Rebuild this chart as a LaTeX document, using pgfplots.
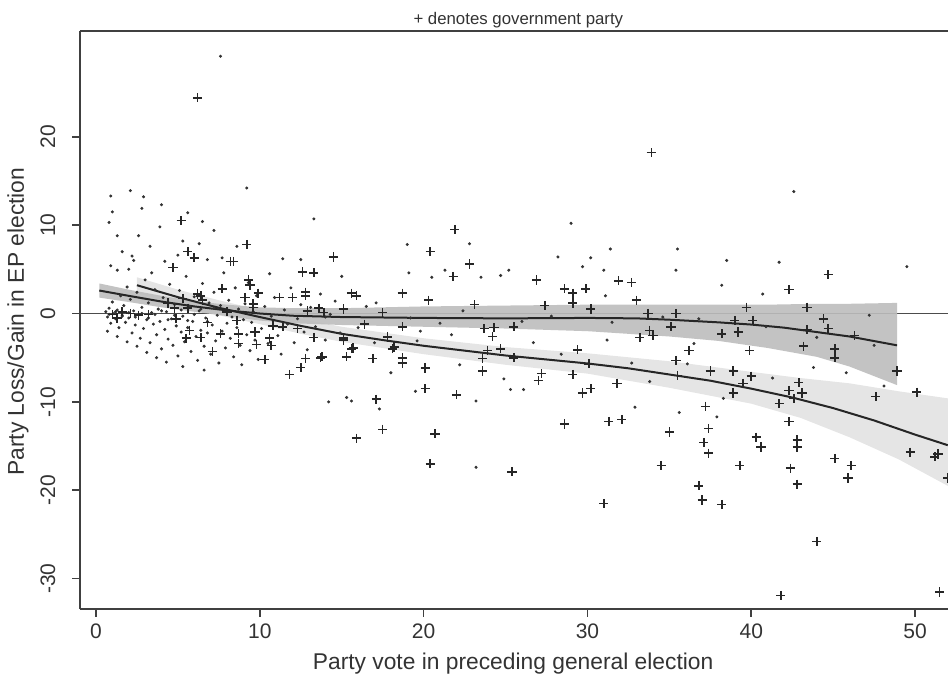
\documentclass[border=0pt]{standalone}
\usepackage{pgfplots}
\pgfplotsset{compat=1.18}
\usepackage{fontspec}
\setmainfont{Liberation Sans}
\begin{document}
\begin{tikzpicture}
\begin{axis}[
  scale only axis, width=434pt, height=289pt,
  xmin=-0.977, xmax=52.01, ymin=-33.43, ymax=31.96,
  axis x line*=box, axis y line*=left,
  axis line style={black!75, line width=1pt},
  xtick={0,10,20,30,40,50}, xticklabels={0,10,20,30,40,50},
  ytick={-30,-20,-10,0,10,20}, yticklabels={-30,-20,-10,0,10,20},
  xtick pos=left, ytick pos=left,
  tick align=outside, major tick length=3.75pt,
  tick style={black!75, line width=0.8pt},
  ticklabel style={font=\fontsize{10.5}{12}\selectfont, text=black!80},
  yticklabel style={rotate=90, anchor=south},
  yticklabel shift=5pt,
  xlabel={Party vote in preceding general election},
  ylabel={Party Loss/Gain in EP election},
  label style={font=\fontsize{11.4}{13}\selectfont, text=black!80},
  xlabel style={at={(axis description cs:0.499,-0.0952)}, anchor=center},
  ylabel style={at={(axis description cs:-0.0714,0.497)}, anchor=center},
  title={+ denotes government party},
  every axis title shift=0pt,
  title style={at={(axis description cs:0.505,1.0183)}, anchor=center, font=\fontsize{8.4}{10}\selectfont, text=black!80},
  clip=true,
]
\coordinate (bl) at (rel axis cs:0,0);
\coordinate (tr) at (rel axis cs:1,1);
% zero line
\addplot[black!70, line width=0.9pt] coordinates {(-0.977,0) (52.01,0)};
% light band (government parties)
\addplot[fill=black!10, draw=none] coordinates {
(2.5,4.1) (5,2.7) (7.5,1.5) (10,0.4) (12.5,-0.6) (15,-1.5) (20,-2.8) (25,-3.8) (30,-4.5) (35,-5.4) (40,-6.6) (43,-7.3) (46,-7.9) (49,-8.8) (52,-9.6)
(52,-19.5) (49,-16.5) (46,-14.0) (43,-11.8) (40,-10.2) (35,-8.4) (30,-6.8) (25,-5.8) (20,-4.6) (15,-3.2) (12.5,-2.3) (10,-1.2) (7.5,-0.2) (5,1.0) (2.5,2.3)};
% dark band (non-government parties)
\addplot[fill=black!26, draw=none, fill opacity=0.9] coordinates {
(0.2,3.4) (2,2.7) (4,2.0) (6,1.4) (8,1.0) (10,0.7) (12,0.6) (15,0.6) (20,0.8) (25,0.9) (30,1.0) (35,1.0) (38,1.0) (41,1.0) (44,1.1) (46,1.1) (48.9,1.2)
(48.9,-8.1) (46,-6.0) (44,-4.9) (41,-3.9) (38,-3.1) (35,-2.6) (30,-2.0) (25,-1.7) (20,-1.5) (15,-1.3) (12,-1.1) (10,-0.8) (8,-0.3) (6,0.2) (4,0.7) (2,1.3) (0.2,1.8)};
% fitted lines
\addplot[black!85, line width=1pt] coordinates {
(2.5,3.2) (5,1.85) (7.5,0.65) (10,-0.4) (12.5,-1.4) (15,-2.3) (17.5,-3.0) (20,-3.65) (22.5,-4.2) (25,-4.75) (27.5,-5.2) (30,-5.65) (32.5,-6.2) (35,-6.9) (37.5,-7.6) (40,-8.5) (42.5,-9.5) (45,-10.7) (47.5,-12.1) (50,-13.7) (52,-14.9)};
\addplot[black!85, line width=1pt] coordinates {
(0.2,2.6) (2,2.0) (4,1.35) (6,0.8) (8,0.35) (10,0.0) (12,-0.25) (15,-0.4) (20,-0.5) (25,-0.55) (30,-0.5) (33,-0.55) (35,-0.7) (38,-1.0) (40,-1.25) (42,-1.6) (44,-2.1) (46,-2.6) (48.9,-3.6)};
% non-government parties (dots)
\addplot[only marks, mark=*, mark size=0.55pt, black!80, mark options={draw=none, fill=black!80}] coordinates {
(0.6,0.2) (0.7,-0.4) (0.8,0.6) (0.9,-1.1) (1.0,1.3) (1.1,0.0) (1.2,-0.6) (1.3,0.4) (1.4,-1.6) (1.5,2.0)
(1.6,-0.2) (1.7,0.9) (1.8,-1.0) (1.9,3.0) (2.0,-0.5) (2.1,1.6) (2.2,-2.2) (2.3,0.3) (2.4,-1.3) (2.5,2.4)
(2.6,-0.1) (2.7,-2.8) (2.8,0.7) (2.9,-1.7) (3.0,3.8) (3.1,-0.7) (3.2,1.2) (3.3,-3.3) (3.4,0.1) (3.5,-1.2)
(3.6,2.7) (3.7,-2.4) (3.8,0.5) (3.9,-0.9) (4.0,-4.0) (4.1,1.8) (4.2,-1.8) (4.3,0.2) (4.4,-2.9) (4.5,3.3)
(4.6,-0.6) (4.7,-3.6) (4.8,1.0) (4.9,-1.4) (5.0,-4.8) (5.1,2.6) (5.2,-2.1) (5.3,-0.3) (5.4,-3.2) (5.5,4.2)
(5.6,-1.6) (5.7,0.8) (5.8,-4.3) (5.9,-0.9) (6.0,1.9) (6.1,-2.6) (6.2,-5.3) (6.3,0.3) (6.4,-1.9) (6.5,3.4)
(6.6,-3.7) (6.7,-0.5) (6.8,-2.2) (6.9,1.2) (7.0,-4.6) (7.1,-1.3) (7.2,2.4) (7.3,-3.1) (7.4,-0.2) (7.5,-5.6)
(7.6,0.9) (7.7,-2.0) (7.8,4.6) (7.9,-3.9) (8.0,-1.1) (8.1,1.5) (8.2,-2.8) (8.3,-0.4) (8.4,-4.9) (8.5,2.9)
(8.6,-1.6) (8.7,0.5) (8.8,-3.6) (8.9,-5.8) (9.0,-0.7) (9.1,1.1) (9.2,-2.4) (9.3,3.5) (9.4,-4.2) (9.5,-1.0)
(9.6,0.2) (9.7,-3.0) (9.8,2.0) (9.9,-5.2) (10.1,-1.7) (10.3,0.8) (10.5,-3.4) (10.7,-0.3) (10.9,1.8) (11.1,-2.5)
(11.3,-4.6) (11.5,0.4) (11.7,-1.2) (11.9,2.9) (12.1,-3.3) (12.3,-0.6) (12.5,1.0) (12.7,-2.1) (12.9,-4.1) (13.1,0.7)
(13.4,-1.5) (13.7,2.2) (14.0,-3.0) (14.3,-0.1) (14.6,1.4) (14.9,-2.2)
(0.8,-0.1) (1.2,0.2) (1.6,-0.3) (2.0,0.1) (2.4,-0.4) (2.8,0.0) (3.2,-0.5) (3.6,-0.1) (4.0,0.3) (4.4,-0.7)
(4.8,-0.2) (5.2,0.4) (5.6,-0.8) (6.0,-0.1) (6.4,0.5) (6.8,-0.9) (7.2,0.6) (0.7,-2.0) (1.3,-2.6) (1.9,-3.2)
(2.5,-3.7) (3.1,-4.4) (3.7,-5.0) (4.3,-5.5) (5.3,-6.0) (6.6,-6.4) (2.0,5.0) (3.4,4.6) (4.2,5.9) (5.0,6.6)
(6.3,7.9) (7.2,9.4) (7.7,6.3) (10.6,4.5) (11.4,6.2) (3.9,9.8) (1.0,11.5)
(7.6,29.1) (9.2,14.2) (13.3,10.7) (0.9,13.3) (2.1,13.9) (2.9,13.2) (2.8,11.9) (4.0,12.3) (5.6,11.4) (6.5,10.4)
(0.8,10.3) (1.3,8.8) (2.6,8.8) (3.3,7.6) (1.6,7.0) (2.2,6.5) (2.3,6.0) (0.9,5.4) (1.3,4.9) (5.3,8.2)
(6.8,6.1) (8.6,7.6) (12.5,6.1) (15.0,4.2) (19.0,7.8) (19.1,4.6) (20.5,4.1) (22.8,7.9) (23.5,4.1) (21.3,4.9)
(29.0,10.2) (28.2,6.4) (31.4,7.3) (30.2,6.3) (29.7,5.3) (31.0,4.9) (35.5,7.3) (35.4,4.9) (38.5,6.0) (38.2,3.2)
(41.7,5.8) (40.7,2.2) (42.6,13.8) (49.5,5.3) (24.7,4.3) (25.2,4.9) (31.1,2.0)
(14.2,-10.0) (15.3,-9.5) (15.6,-9.9) (17.3,-10.8) (19.5,-8.8) (23.2,-9.9) (23.2,-17.4) (25.3,-8.6) (18.0,-6.7)
(32.9,-10.6) (35.6,-11.2) (37.9,-11.7) (45.8,-6.7) (48.1,-8.2) (26.1,-8.6) (32.7,-5.6) (33.8,-7.7) (41.3,-7.3) (38.3,-9.6)
(16.5,0.8) (19.2,-0.5) (21.0,-1.1) (22.4,0.3) (26.0,-0.9) (27.8,-0.3) (31.5,-1.0) (34.6,-0.4) (36.8,-0.6) (40.9,-1.5)
(44.0,-2.7) (47.2,-0.2) (21.7,-2.4) (26.7,-3.3) (28.4,-4.6) (31.2,-3.0) (36.5,-3.4) (19.8,-2.0) (17.1,1.2) (14.0,-0.4)
(16.0,-1.6) (17.0,-3.3) (19.6,-3.1) (22.2,-5.8) (24.9,-7.4) (36.1,-5.7) (43.8,-6.1) (47.5,-3.6)};
% government parties (plus)
\addplot[only marks, mark=+, mark size=2.3pt, black!85, mark options={line width=0.8pt}] coordinates {
(6.2,24.4) (33.9,18.2) (5.2,10.5) (21.9,9.5) (20.4,7.0) (14.5,6.4) (22.8,5.6) (21.8,4.2) (9.2,7.8) (5.6,7.0)
(6.0,6.3) (8.2,5.9) (8.4,5.9) (4.7,5.2) (12.6,4.7) (13.3,4.6) (44.7,4.4) (42.3,2.7) (26.9,3.8) (28.6,2.8)
(29.1,2.3) (29.1,1.2) (29.9,2.8) (31.9,3.7) (32.7,3.5) (33.0,1.5) (23.1,1.0) (27.4,0.9) (30.2,0.5) (39.7,0.7)
(43.4,0.7) (33.7,0.0) (35.4,0.0) (44.4,-0.6) (44.7,-1.7) (35.1,-1.5) (39.0,-0.8) (40.1,-0.8) (38.2,-2.3) (39.2,-2.1)
(43.4,-1.8) (46.3,-2.5) (33.8,-1.9) (34.0,-2.5) (33.2,-2.7)
(12.8,2.4) (12.8,2.0) (15.6,2.3) (15.9,2.0) (18.7,2.3) (20.3,1.5) (17.5,0.1) (15.1,0.5) (13.6,0.6) (13.9,0.1)
(18.7,-1.5) (16.4,-1.2) (17.8,-2.6) (15.1,-2.8) (13.3,-2.7) (23.7,-1.7) (24.3,-1.6) (25.5,-1.5) (24.2,-2.6) (23.9,-4.2)
(24.7,-4.0) (23.6,-5.1) (25.5,-5.0) (23.6,-6.5) (15.7,-3.9) (18.2,-3.8) (15.3,-4.9) (16.9,-5.1) (13.7,-5.0) (12.8,-5.1)
(18.7,-5.0) (18.7,-5.6) (20.1,-6.1)
(36.2,-4.2) (39.9,-4.2) (43.2,-3.7) (45.1,-4.0) (45.1,-5.0) (48.9,-6.5) (35.4,-5.3) (35.5,-7.0) (37.5,-6.5) (38.9,-6.5)
(40.0,-7.1) (39.5,-7.9) (38.9,-9.0) (42.9,-7.8) (42.3,-8.7) (43.1,-9.0) (42.6,-9.6) (41.7,-10.2) (47.6,-9.4) (50.1,-8.9)
(37.2,-10.5) (42.3,-12.2) (37.4,-13.0) (37.1,-14.6) (37.4,-15.8) (35.0,-13.4) (40.3,-14.0) (40.6,-15.1) (42.8,-14.3) (42.8,-15.1)
(42.4,-17.5) (42.8,-19.3) (45.1,-16.4) (46.1,-17.2) (45.9,-18.6) (49.7,-15.7) (51.2,-16.2) (51.4,-15.9) (52.0,-18.6) (39.3,-17.2)
(34.5,-17.2) (36.8,-19.5) (37.0,-21.1) (38.2,-21.6) (31.0,-21.5) (25.4,-17.9) (44.0,-25.8) (41.8,-31.9) (51.5,-31.5) (28.6,-12.5)
(31.3,-12.2) (32.1,-12.0) (31.8,-7.9) (29.7,-9.0) (30.2,-8.5) (27.2,-6.8) (27.0,-7.6) (29.1,-6.9) (30.1,-5.7) (29.4,-4.1)
(9.3,3.8) (9.4,3.2) (7.7,2.8) (9.9,2.3) (6.2,2.2) (11.2,1.8) (12.0,1.8) (5.3,1.7) (6.5,1.5) (9.1,1.8)
(9.6,0.7) (8.0,0.2) (4.9,-0.6) (6.8,-1.0) (7.6,-2.3) (5.7,-1.9) (8.7,-2.3) (8.7,-3.4) (5.5,-2.8) (6.4,-2.7)
(9.7,-2.1) (9.8,-3.5) (10.6,-2.8) (10.7,-3.6) (7.1,-4.3) (10.3,-5.2) (11.8,-6.9) (12.5,-6.1) (11.4,-1.5) (12.3,-1.7)
(12.9,0.3) (10.8,-1.4) (4.8,0.6) (4.4,1.2) (3.2,-0.1) (1.0,-0.1) (2.1,0.0) (5.6,0.6) (6.4,2.0) (9.6,1.1)
(8.6,-0.8) (13.8,-4.9) (15.6,-4.0) (18.1,-4.0) (17.8,-2.7) (15.1,-3.0) (1.6,0.2) (2.6,-0.2) (1.3,-0.5)
(20.1,-8.5) (22.0,-9.2) (17.1,-9.7) (17.5,-13.1) (15.9,-14.1) (20.7,-13.6) (20.4,-17.0) (20.1,-6.2)};
\end{axis}
\pgfresetboundingbox
\path[use as bounding box] ([shift={(-40pt,-34.5pt)}]bl) rectangle ([shift={(0pt,15.5pt)}]tr);
\end{tikzpicture}
\end{document}
